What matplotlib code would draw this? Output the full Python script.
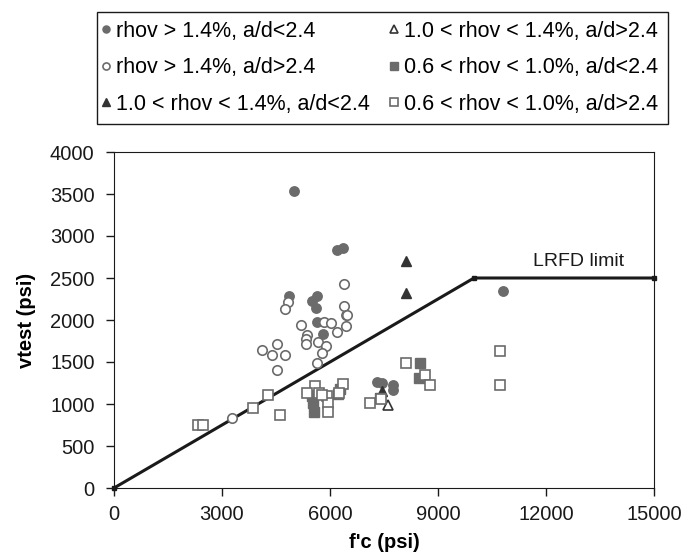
import matplotlib
matplotlib.use('Agg')
import matplotlib.pyplot as plt
from matplotlib.patches import Rectangle

plt.rcParams['font.family'] = ['Liberation Sans', 'DejaVu Sans']

# rhov > 1.4%, a/d<2.4
fc_circ_fill = [5000, 6200, 6350, 4850, 5500, 5650, 5600, 6450, 5650, 5800,
                7300, 7450, 7750, 7750, 10800]
v_circ_fill = [3540, 2830, 2860, 2285, 2225, 2285, 2140, 2060, 1980, 1830,
               1265, 1245, 1225, 1170, 2345]
# rhov > 1.4%, a/d>2.4
fc_circ_open = [6390, 4840, 4750, 6390, 6480, 6440, 5840, 6030, 6200, 5190,
                5350, 5330, 5330, 5680, 5880, 5790, 4540, 4100, 4380, 4760,
                5650, 4540, 3270]
v_circ_open = [2425, 2220, 2130, 2165, 2065, 1930, 1980, 1960, 1860, 1945,
               1820, 1770, 1710, 1735, 1690, 1610, 1720, 1645, 1585, 1585,
               1490, 1400, 830]
# 1.0 < rhov < 1.4%, a/d<2.4
fc_tri_fill = [8100, 8100, 7450]
v_tri_fill = [2700, 2320, 1150]
# 1.0 < rhov < 1.4%, a/d>2.4
fc_tri_open = [7600]
v_tri_open = [990]
# 0.6 < rhov < 1.0%, a/d<2.4
fc_sq_fill = [8500, 8480, 5500, 5540, 5560, 6230, 6280, 7400]
v_sq_fill = [1485, 1315, 1090, 1010, 910, 1125, 1175, 1070]
# 0.6 < rhov < 1.0%, a/d>2.4
fc_sq_open = [2340, 2480, 3870, 4290, 4610, 5580, 5350, 5700, 5910, 5935,
              5935, 5770, 6350, 6260, 7100, 7410, 8110, 8640, 8780, 10720,
              10720]
v_sq_open = [750, 750, 950, 1110, 870, 1215, 1135, 1135, 1095, 1010,
             910, 1105, 1235, 1135, 1010, 1055, 1485, 1345, 1225, 1630,
             1225]

# LRFD limit
lrfd_fc = [0, 10000, 15000]
lrfd_v = [0, 2500, 2500]

labels = ['rhov > 1.4%, a/d<2.4', 'rhov > 1.4%, a/d>2.4',
          '1.0 < rhov < 1.4%, a/d<2.4', '1.0 < rhov < 1.4%, a/d>2.4',
          '0.6 < rhov < 1.0%, a/d<2.4', '0.6 < rhov < 1.0%, a/d>2.4']

gray = '#6b6b6b'
dark = '#333333'
W, H = 694, 559

fig = plt.figure(figsize=(6.94, 5.59), dpi=100)
ax = fig.add_axes([114/W, 1 - 488/H, 540/W, 336/H])

ax.plot(lrfd_fc, lrfd_v, color='#1a1a1a', lw=2.2, marker='s', ms=3,
        zorder=1, clip_on=False)

ms = 6.8
ax.plot(fc_circ_fill, v_circ_fill, 'o', ms=ms, mfc=gray, mec=gray, label=labels[0])
ax.plot(fc_circ_open, v_circ_open, 'o', ms=ms, mfc='white', mec=gray, mew=1.2, label=labels[1])
ax.plot(fc_tri_fill, v_tri_fill, '^', ms=ms, mfc=dark, mec=dark, label=labels[2])
ax.plot(fc_tri_open, v_tri_open, '^', ms=ms, mfc='white', mec=dark, mew=1.2, label=labels[3])
ax.plot(fc_sq_fill, v_sq_fill, 's', ms=ms, mfc=gray, mec=gray, label=labels[4])
ax.plot(fc_sq_open, v_sq_open, 's', ms=ms, mfc='white', mec=gray, mew=1.2, label=labels[5])

ax.text(11650, 2640, 'LRFD limit', fontsize=14, color='#1a1a1a')

ax.set_xlim(0, 15000)
ax.set_ylim(0, 4000)
ax.set_xticks(range(0, 15001, 3000))
ax.set_yticks(range(0, 4001, 500))
ax.tick_params(direction='out', length=6, width=1, labelsize=14.5, colors='#1a1a1a')
ax.tick_params(axis='y', pad=8)
ax.tick_params(axis='x', pad=6)
for s in ax.spines.values():
    s.set_color('#1a1a1a')
ax.set_xlabel("f'c (psi)", fontsize=14.5, fontweight='bold', labelpad=7)
ax.set_ylabel('vtest (psi)', fontsize=14.5, fontweight='bold', labelpad=10)

# legend box drawn separately, legend placed frameless inside
fig.patches.append(Rectangle((97/W, 1 - 124/H), 571/W, 112/H, transform=fig.transFigure,
                             fill=False, edgecolor='#1a1a1a', lw=1))
h, l = ax.get_legend_handles_labels()
leg = fig.legend(h, l, loc='upper left', ncol=2,
                 bbox_to_anchor=(102/W, 1 - 21/H),
                 fontsize=15.5, frameon=False,
                 markerscale=0.75, handlelength=0.35, handletextpad=0.3,
                 labelspacing=0.72, borderpad=0, borderaxespad=0,
                 columnspacing=0.95)

fig.savefig('out.png', dpi=100)
